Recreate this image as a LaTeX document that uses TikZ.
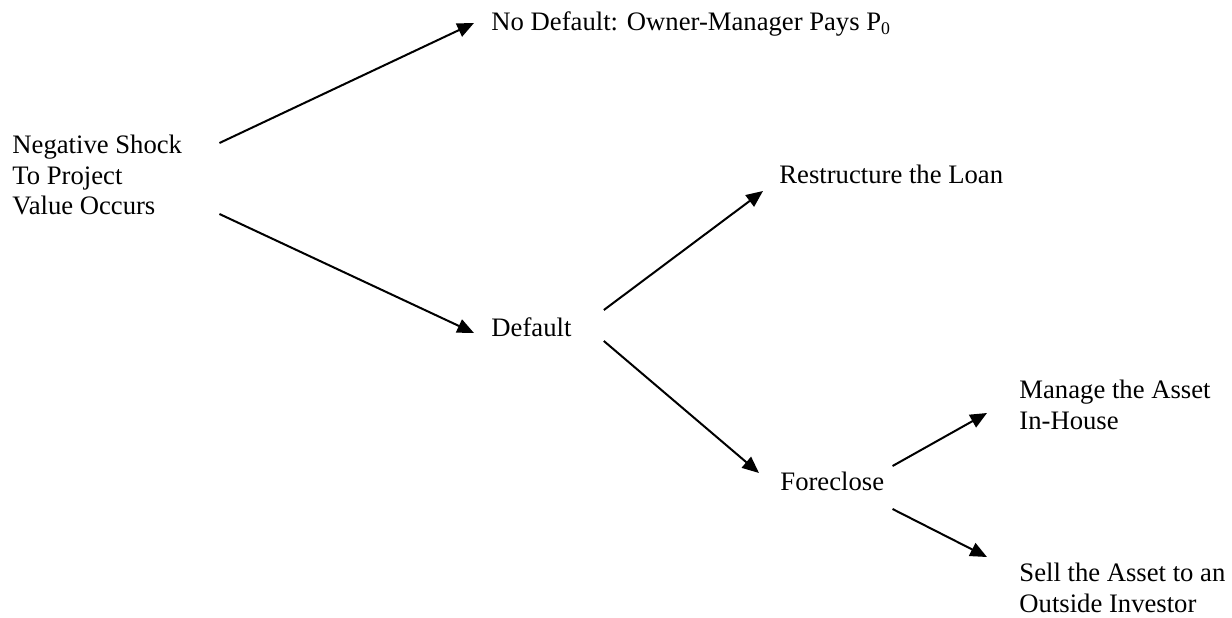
\documentclass[tikz,border=0pt]{standalone}
\usepackage{fontspec}
\setmainfont{Liberation Serif}
\usetikzlibrary{arrows.meta}

\begin{document}
\begin{tikzpicture}[x=0.45pt, y=-0.45pt,
    choice/.style={inner sep=0pt, align=left, font=\fontsize{12}{13.8}\selectfont},
    arr/.style={line width=0.9pt, -{Triangle[length=7.5pt,width=6.4pt]}}]
    \useasboundingbox (0,0) rectangle (1232,618);
    % decision points and outcomes
    \node[choice, anchor=west] (shock) at (12,175) {Negative Shock\\To Project\\Value Occurs};
    \node[choice, anchor=base west] (nodef) at (491,30) {No Default: Owner-Manager Pays P\textsubscript{0}};
    \node[choice, anchor=base west] (dflt) at (491,336) {Default};
    \node[choice, anchor=base west] (restr) at (779,183) {Restructure the Loan};
    \node[choice, anchor=base west] (fcl) at (780,490) {Foreclose};
    \node[choice, anchor=west] (inhouse) at (1019,405) {Manage the Asset\\In-House};
    \node[choice, anchor=west] (sell) at (1019,588) {Sell the Asset to an\\Outside Investor};
    % branches
    \draw[arr] ([shift={(37,-32)}]shock.east) -- ([shift={(-17,-7)}]nodef.base west);
    \draw[arr] ([shift={(37,39)}]shock.east) -- ([shift={(-17,-3)}]dflt.base west);
    \draw[arr] ([shift={(32,-26)}]dflt.base east) -- ([shift={(-16,8)}]restr.base west);
    \draw[arr] ([shift={(32,5)}]dflt.base east) -- ([shift={(-21,-17)}]fcl.base west);
    \draw[arr] ([shift={(8,-24)}]fcl.base east) -- ([shift={(-32,8)}]inhouse.west);
    \draw[arr] ([shift={(8,19)}]fcl.base east) -- ([shift={(-32,-31)}]sell.west);
\end{tikzpicture}
\end{document}
